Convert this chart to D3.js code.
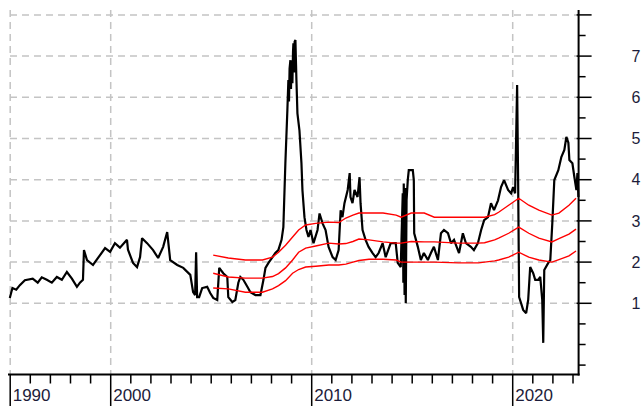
<!DOCTYPE html>
<html>
<head>
<meta charset="utf-8">
<script src="https://cdn.jsdelivr.net/npm/d3@7"></script>
<style>
  html, body { margin: 0; padding: 0; background: #fff; }
  svg { display: block; }
  text { font-family: "Liberation Sans", Arial, sans-serif; }
</style>
</head>
<body>
<svg id="chart" width="642" height="406"></svg>
<script>
// Price history (decimal year, value)
const priceYears = [
  1994.98, 1995.11, 1995.3, 1995.48, 1995.73, 1996.12, 1996.37, 1996.57, 1996.82, 1997.07,
  1997.32, 1997.57, 1997.82, 1998.07, 1998.32, 1998.47, 1998.62, 1998.67, 1998.82, 1999.12,
  1999.37, 1999.72, 1999.97, 2000.21, 2000.46, 2000.81, 2000.86, 2001.11, 2001.31, 2001.46,
  2001.56, 2001.81, 2002.11, 2002.36, 2002.61, 2002.81, 2002.96, 2003.31, 2003.61, 2003.96,
  2004.1, 2004.2, 2004.25, 2004.3, 2004.4, 2004.55, 2004.8, 2004.95, 2005.1, 2005.3,
  2005.4, 2005.6, 2005.8, 2005.85, 2006.05, 2006.2, 2006.35, 2006.45, 2006.6, 2006.8,
  2006.95, 2007.2, 2007.45, 2007.6, 2007.7, 2007.85, 2008.05, 2008.19, 2008.34, 2008.5,
  2008.59, 2008.69, 2008.79, 2008.84, 2008.87, 2008.9, 2008.94, 2008.97, 2009.0, 2009.04,
  2009.07, 2009.09, 2009.12, 2009.15, 2009.19, 2009.22, 2009.24, 2009.29, 2009.39, 2009.49,
  2009.54, 2009.64, 2009.74, 2009.84, 2009.94, 2010.09, 2010.29, 2010.39, 2010.54, 2010.69,
  2010.84, 2011.04, 2011.19, 2011.34, 2011.44, 2011.53, 2011.63, 2011.79, 2011.89, 2011.93,
  2012.03, 2012.13, 2012.28, 2012.38, 2012.43, 2012.53, 2012.68, 2012.83, 2013.03, 2013.18,
  2013.33, 2013.53, 2013.68, 2013.93, 2014.18, 2014.28, 2014.43, 2014.53, 2014.56, 2014.58,
  2014.62, 2014.65, 2014.68, 2014.72, 2014.78, 2014.83, 2015.03, 2015.08, 2015.1, 2015.28,
  2015.43, 2015.58, 2015.78, 2015.93, 2016.08, 2016.28, 2016.43, 2016.58, 2016.78, 2016.93,
  2017.08, 2017.33, 2017.52, 2017.67, 2017.92, 2018.07, 2018.27, 2018.43, 2018.58, 2018.77,
  2018.92, 2019.07, 2019.27, 2019.42, 2019.57, 2019.77, 2019.92, 2020.02, 2020.12, 2020.22,
  2020.27, 2020.32, 2020.42, 2020.52, 2020.67, 2020.77, 2020.87, 2021.02, 2021.12, 2021.27,
  2021.37, 2021.47, 2021.52, 2021.57, 2021.77, 2021.87, 2021.97, 2022.07, 2022.27, 2022.42,
  2022.57, 2022.67, 2022.77, 2022.82, 2022.97, 2023.07, 2023.17, 2023.22, 2023.27
];
const priceValues = [
  1.13, 1.37, 1.33, 1.44, 1.56, 1.6, 1.5, 1.63, 1.57, 1.5,
  1.64, 1.57, 1.76, 1.6, 1.4, 1.5, 1.57, 2.29, 2.05, 1.93,
  2.1, 2.34, 2.25, 2.46, 2.35, 2.54, 2.3, 1.98, 1.88, 2.12,
  2.58, 2.46, 2.29, 2.1, 2.37, 2.73, 2.05, 1.93, 1.86, 1.69,
  1.27, 1.2, 2.24, 1.15, 1.15, 1.37, 1.4, 1.25, 1.13, 1.08,
  1.86, 1.73, 1.64, 1.15, 1.03, 1.08, 1.5, 1.64, 1.57, 1.4,
  1.27, 1.2, 1.2, 1.57, 1.86, 1.98, 2.12, 2.22, 2.29, 2.54,
  2.85, 4.4, 5.69, 6.42, 5.9, 6.7, 6.9, 6.2, 6.9, 6.34,
  7.1, 7.31, 6.6, 7.35, 7.39, 6.8, 6.42, 5.61, 5.2, 4.4,
  3.74, 3.09, 2.78, 2.61, 2.78, 2.46, 2.78, 3.18, 2.94, 2.78,
  2.37, 2.12, 2.05, 2.29, 3.26, 3.09, 3.43, 3.75, 4.16, 3.58,
  3.43, 3.75, 3.58, 4.06, 3.43, 2.78, 2.54, 2.37, 2.22, 2.12,
  2.22, 2.46, 2.12, 2.46, 2.46, 1.98, 1.88, 3.67, 1.5, 3.91,
  1.2, 3.8, 1.0, 3.5, 3.99, 4.23, 4.23, 3.99, 2.7, 2.37,
  2.05, 2.22, 2.05, 2.22, 2.37, 2.05, 2.7, 2.78, 2.7, 2.46,
  2.54, 2.22, 2.7, 2.46, 2.37, 2.29, 2.46, 2.78, 3.02, 3.09,
  3.43, 3.26, 3.5, 3.82, 3.99, 3.75, 3.67, 3.82, 3.67, 6.3,
  3.99, 1.15, 1.0, 0.84, 0.76, 1.08, 1.88, 1.73, 1.57, 1.57,
  1.64, 1.08, 0.04, 1.81, 1.98, 2.05, 2.94, 3.99, 4.23, 4.55,
  4.72, 5.04, 4.9, 4.48, 4.4, 4.06, 3.75, 4.16, 3.58
];

// Band lines (shared sample years)
const bandYears = [
  2005.1, 2005.85, 2006.7, 2007.55, 2008.05, 2008.35, 2008.7, 2009.05, 2009.35, 2009.7,
  2010.2, 2010.85, 2011.35, 2011.7, 2012.05, 2012.35, 2012.85, 2013.55, 2014.2, 2014.45,
  2014.95, 2015.6, 2016.1, 2017.3, 2018.3, 2018.6, 2019.1, 2019.3, 2019.8, 2020.3,
  2020.8, 2021.3, 2021.95, 2022.3, 2022.8, 2023.15
];
const bandUpper = [
  2.17, 2.1, 2.05, 2.05, 2.12, 2.24, 2.41, 2.61, 2.78, 2.9,
  2.94, 2.97, 2.96, 3.07, 3.14, 3.19, 3.19, 3.19, 3.14, 3.09,
  3.19, 3.19, 3.09, 3.09, 3.09, 3.09, 3.15, 3.21, 3.38, 3.55,
  3.38, 3.26, 3.14, 3.19, 3.38, 3.55
];
const bandMiddle = [
  1.73, 1.64, 1.61, 1.61, 1.65, 1.72, 1.86, 2.05, 2.24, 2.34,
  2.39, 2.46, 2.44, 2.45, 2.5, 2.56, 2.54, 2.49, 2.46, 2.46,
  2.5, 2.49, 2.49, 2.46, 2.46, 2.47, 2.54, 2.58, 2.7, 2.85,
  2.7, 2.58, 2.49, 2.57, 2.68, 2.8
];
const bandLower = [
  1.37, 1.35, 1.27, 1.27, 1.35, 1.43, 1.55, 1.73, 1.82, 1.88,
  1.9, 1.93, 1.93, 1.95, 2.0, 2.04, 2.07, 2.07, 2.05, 2.0,
  2.0, 2.0, 2.0, 1.98, 1.98, 2.0, 2.03, 2.05, 2.12, 2.24,
  2.12, 2.05, 2.0, 2.06, 2.15, 2.27
];

// Axis ticks
const xMajorYears = [1995, 2000, 2010, 2020];
const xMajorLabels = ["1990", "2000", "2010", "2020"];
const yMajorValues = [1, 2, 3, 4, 5, 6, 7, 8];
const yTickLabels = ["1", "2", "3", "4", "5", "6", "7", ""];

const svg = d3.select("#chart");
svg.append("rect").attr("width", 642).attr("height", 406).attr("fill", "#fff");

const plotLeft = 10, plotRight = 578.6, plotTop = 10, plotBottom = 374.5;

const x = d3.scaleLinear().domain([2000, 2010]).range([110.7, 311.7]);
const y = d3.scaleLinear().domain([1, 8]).range([303.3, 14.9]);

const gridColor = "#c4c4c4";

// horizontal grid
svg.append("g").selectAll("line").data(yMajorValues).join("line")
  .attr("x1", plotLeft).attr("x2", plotRight)
  .attr("y1", d => y(d)).attr("y2", d => y(d))
  .attr("stroke", gridColor).attr("stroke-width", 1.5)
  .attr("stroke-dasharray", "7,5");

// vertical grid
svg.append("g").selectAll("line").data(xMajorYears).join("line")
  .attr("x1", d => x(d)).attr("x2", d => x(d))
  .attr("y1", plotTop).attr("y2", plotBottom)
  .attr("stroke", gridColor).attr("stroke-width", 1.5)
  .attr("stroke-dasharray", "7,5");

// price line
const price = priceYears.map((t, i) => [t, priceValues[i]]);
const line = d3.line().x(d => x(d[0])).y(d => y(d[1]));
svg.append("path").datum(price)
  .attr("d", line)
  .attr("fill", "none").attr("stroke", "#000").attr("stroke-width", 2.2)
  .attr("stroke-linejoin", "miter").attr("stroke-miterlimit", 2);

// band lines
[bandUpper, bandMiddle, bandLower].forEach(vals => {
  const pts = bandYears.map((t, i) => [t, vals[i]]);
  svg.append("path").datum(pts)
    .attr("d", line)
    .attr("fill", "none").attr("stroke", "#ff0000").attr("stroke-width", 1.4);
});

// bottom axis
const xMinor = d3.range(1996, 2024).filter(t => !xMajorYears.includes(t));
const xAxisG = svg.append("g");
xAxisG.append("line")
  .attr("x1", 8).attr("x2", plotRight + 1)
  .attr("y1", plotBottom).attr("y2", plotBottom)
  .attr("stroke", "#000").attr("stroke-width", 2);
xAxisG.selectAll(".minor").data(xMinor).join("line")
  .attr("x1", d => x(d)).attr("x2", d => x(d))
  .attr("y1", plotBottom).attr("y2", plotBottom + 9)
  .attr("stroke", "#000").attr("stroke-width", 1.5);
xAxisG.selectAll(".major").data(xMajorYears).join("line")
  .attr("x1", d => x(d)).attr("x2", d => x(d))
  .attr("y1", plotBottom).attr("y2", 406)
  .attr("stroke", "#000").attr("stroke-width", 1.5);
xAxisG.selectAll("text").data(xMajorYears).join("text")
  .attr("x", d => x(d) + 2.5).attr("y", 401)
  .attr("font-size", 17).attr("fill", "#1c1c3a")
  .text((d, i) => xMajorLabels[i]);

// right axis
const yMinor = d3.range(-0.5, 8.01, 0.5).filter(v => !yMajorValues.includes(v));
const yAxisG = svg.append("g");
yAxisG.append("line")
  .attr("x1", plotRight).attr("x2", plotRight)
  .attr("y1", plotTop).attr("y2", plotBottom + 1)
  .attr("stroke", "#000").attr("stroke-width", 2);
yAxisG.selectAll(".minor").data(yMinor).join("line")
  .attr("x1", plotRight).attr("x2", plotRight + 7)
  .attr("y1", d => y(d)).attr("y2", d => y(d))
  .attr("stroke", "#000").attr("stroke-width", 1.5);
yAxisG.selectAll(".major").data(yMajorValues).join("line")
  .attr("x1", plotRight - 2).attr("x2", plotRight + 13)
  .attr("y1", d => y(d)).attr("y2", d => y(d))
  .attr("stroke", "#000").attr("stroke-width", 1.5);
yAxisG.selectAll("text").data(yMajorValues).join("text")
  .attr("x", 631.5).attr("y", d => y(d))
  .attr("dy", "0.36em")
  .attr("font-size", 16).attr("fill", "#1c1c3a")
  .text((d, i) => yTickLabels[i]);
</script>
</body>
</html>
